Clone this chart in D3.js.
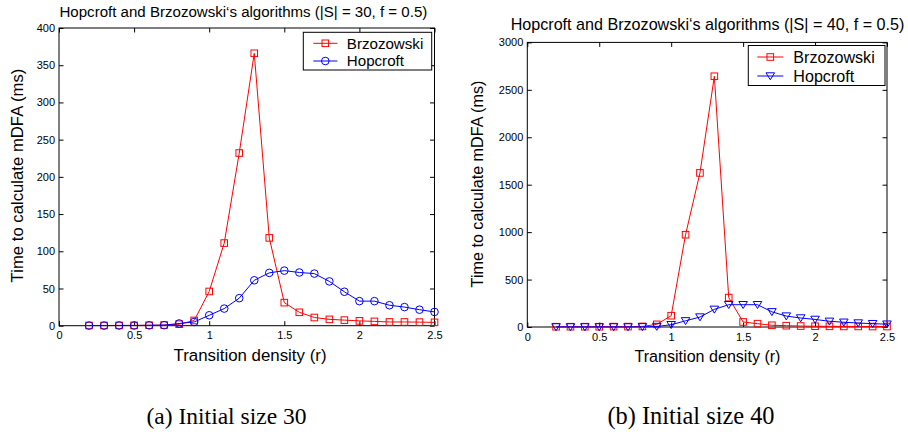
<!DOCTYPE html>
<html>
<head>
<meta charset="utf-8">
<script src="https://cdn.jsdelivr.net/npm/d3@7/dist/d3.min.js"></script>
<style>
  html, body { margin: 0; padding: 0; background: #fff; }
  svg { display: block; }
  text { font-family: "Liberation Sans", Arial, Helvetica, sans-serif; fill: #000; }
  text.caption { font-family: "Liberation Serif", "Times New Roman", serif; }
</style>
</head>
<body>
<svg id="chart" width="908" height="434"></svg>
<script>
// ---------- data ----------
const density = [0.2, 0.3, 0.4, 0.5, 0.6, 0.7, 0.8, 0.9, 1.0, 1.1, 1.2, 1.3, 1.4, 1.5, 1.6, 1.7, 1.8, 1.9, 2.0, 2.1, 2.2, 2.3, 2.4, 2.5];

const brzozowski30 = [0.3, 0.3, 0.4, 0.4, 0.6, 0.9, 2, 7, 46, 111, 232, 366, 118, 31, 18, 11, 8.5, 7.5, 6.5, 5.8, 5, 5, 4.8, 4.5];
const hopcroft30   = [0.2, 0.2, 0.3, 0.3, 0.5, 0.7, 3, 5, 14, 23, 37, 61, 71, 74, 71.5, 70, 59.5, 45.6, 33, 33, 27.5, 25, 21.5, 18.5];

const brzozowski40 = [3, 3, 3, 3, 4, 4, 6, 28, 119, 973, 1624, 2643, 310, 53, 35, 18, 14, 10, 8, 7, 6, 6, 5, 5];
const hopcroft40   = [1, 1, 1, 1, 1, 1, 2, 5, 24, 65, 105, 186, 235, 235, 235, 160, 115, 95, 80, 60, 50, 42, 35, 30];

const xTicks = [0, 0.5, 1, 1.5, 2, 2.5];
const yTicks30 = [0, 50, 100, 150, 200, 250, 300, 350, 400];
const yTicks40 = [0, 500, 1000, 1500, 2000, 2500, 3000];

const seriesNames = ["Brzozowski", "Hopcroft"];
const titles = [
  "Hopcroft and Brzozowski\u2018s algorithms (|S| = 30, f = 0.5)",
  "Hopcroft and Brzozowski\u2018s algorithms (|S| = 40, f = 0.5)"
];
const captions = ["(a) Initial size 30", "(b) Initial size 40"];
const xLabel = "Transition density (r)";
const yLabel = "Time to calculate mDFA (ms)";

// ---------- drawing ----------
const svg = d3.select("#chart");
const RED = "#ff0000", BLUE = "#0000ff";

// scale font-size so that the text spans a target width
function fit(sel, target, base) {
  sel.attr("font-size", base);
  const w = sel.node().getComputedTextLength();
  if (w > 0) sel.attr("font-size", (base * target / w).toFixed(2));
  return sel;
}

function marker(g, type, color) {
  if (type === "square") {
    g.append("rect").attr("x", -3.3).attr("y", -3.3).attr("width", 6.6).attr("height", 6.6)
      .attr("fill", "none").attr("stroke", color).attr("stroke-width", 1);
  } else if (type === "circle") {
    g.append("circle").attr("r", 3.8).attr("fill", "none").attr("stroke", color).attr("stroke-width", 1);
  } else if (type === "tri") {
    g.append("path").attr("d", "M-4.3,-3.2 L4.3,-3.2 L0,3.8 Z")
      .attr("fill", "none").attr("stroke", color).attr("stroke-width", 1);
  }
}

function panel(cfg) {
  const g = svg.append("g");
  const x = d3.scaleLinear().domain([0, 2.5]).range([cfg.left, cfg.right]);
  const y = d3.scaleLinear().domain([0, cfg.ymax]).range([cfg.bottom, cfg.top]);

  const ax = g.append("g").attr("transform", `translate(0,${cfg.bottom})`)
    .call(d3.axisBottom(x).tickValues(xTicks).tickSize(-4.5).tickPadding(6).tickFormat(d3.format("")));
  const axTop = g.append("g").attr("transform", `translate(0,${cfg.top})`)
    .call(d3.axisTop(x).tickValues(xTicks).tickSize(-4.5).tickFormat(""));
  const ay = g.append("g").attr("transform", `translate(${cfg.left},0)`)
    .call(d3.axisLeft(y).tickValues(cfg.yTicks).tickSize(-4.5).tickPadding(4).tickFormat(d3.format("")));
  const ayR = g.append("g").attr("transform", `translate(${cfg.right},0)`)
    .call(d3.axisRight(y).tickValues(cfg.yTicks).tickSize(-4.5).tickFormat(""));
  [ax, axTop, ay, ayR].forEach(a => {
    a.select(".domain").remove();
    a.selectAll("line").attr("stroke", "#000").attr("stroke-width", 1);
    a.selectAll("text").attr("font-size", cfg.tickFont).attr("fill", "#000");
  });

  g.append("rect").attr("x", cfg.left).attr("y", cfg.top)
    .attr("width", cfg.right - cfg.left).attr("height", cfg.bottom - cfg.top)
    .attr("fill", "none").attr("stroke", "#000").attr("stroke-width", 1);

  const line = d3.line().x(d => x(d[0])).y(d => y(d[1]));
  cfg.series.forEach(s => {
    const pts = density.map((d, i) => [d, s.values[i]]);
    g.append("path").datum(pts).attr("d", line).attr("fill", "none")
      .attr("stroke", s.color).attr("stroke-width", 1);
    pts.forEach(p => {
      const m = g.append("g").attr("transform", `translate(${x(p[0])},${y(p[1])})`);
      marker(m, s.marker, s.color);
    });
  });

  // title
  fit(g.append("text").attr("x", cfg.titleX).attr("y", cfg.titleY).attr("text-anchor", "middle")
    .text(cfg.title), cfg.titleW, 14);
  // x label
  fit(g.append("text").attr("x", cfg.xLabelX).attr("y", cfg.xLabelY).attr("text-anchor", "middle")
    .text(xLabel), cfg.xLabelW, 16);
  // y label
  fit(g.append("text").attr("transform", `translate(${cfg.yLabelX},${cfg.yLabelY}) rotate(-90)`)
    .attr("text-anchor", "middle").text(yLabel), cfg.yLabelW, 16);

  // legend
  const L = cfg.legend;
  g.append("rect").attr("x", L.x).attr("y", L.y).attr("width", L.w).attr("height", L.h)
    .attr("fill", "#fff").attr("stroke", "#000").attr("stroke-width", 1);
  let fs = null;
  cfg.series.forEach((s, i) => {
    const ry = L.y + L.row0 + i * L.rowGap;
    g.append("line").attr("x1", L.x + L.lineX0).attr("x2", L.x + L.lineX1)
      .attr("y1", ry).attr("y2", ry).attr("stroke", s.color).attr("stroke-width", 1);
    const m = g.append("g").attr("transform", `translate(${L.x + (L.lineX0 + L.lineX1) / 2},${ry})`);
    marker(m, s.marker, s.color);
    const t = g.append("text").attr("x", L.x + L.textX).attr("y", ry).attr("dy", "0.36em").text(seriesNames[i]);
    if (i === 0) { fit(t, L.textW, 15); fs = t.attr("font-size"); }
    else t.attr("font-size", fs);
  });

  // caption (serif)
  const cap = svg.append("text").attr("class", "caption").attr("x", cfg.capX).attr("y", 424)
    .attr("text-anchor", "middle").text(cfg.caption);
  fit(cap, cfg.capW, 22);
}

panel({
  left: 59, right: 434.5, top: 28, bottom: 325.7, ymax: 400, yTicks: yTicks30,
  tickFont: 11,
  title: titles[0], titleX: 243.4, titleY: 17, titleW: 368,
  xLabelX: 250, xLabelY: 361, xLabelW: 153,
  yLabelX: 23, yLabelY: 175.5, yLabelW: 214,
  caption: captions[0], capX: 226.5, capW: 160,
  series: [
    { values: brzozowski30, color: RED, marker: "square" },
    { values: hopcroft30, color: BLUE, marker: "circle" }
  ],
  legend: { x: 303.3, y: 32.3, w: 128.4, h: 37.7, row0: 11, rowGap: 17.7, lineX0: 10, lineX1: 34, textX: 43.5, textW: 76.5 }
});

panel({
  left: 527.3, right: 887, top: 42.4, bottom: 327, ymax: 3000, yTicks: yTicks40,
  tickFont: 11,
  title: titles[1], titleX: 707.5, titleY: 30, titleW: 394,
  xLabelX: 707.5, xLabelY: 362, xLabelW: 146,
  yLabelX: 483, yLabelY: 184, yLabelW: 207,
  caption: captions[1], capX: 691, capW: 167,
  series: [
    { values: brzozowski40, color: RED, marker: "square" },
    { values: hopcroft40, color: BLUE, marker: "tri" }
  ],
  legend: { x: 748.3, y: 45.5, w: 136.7, h: 40, row0: 11.5, rowGap: 19, lineX0: 9, lineX1: 35, textX: 45, textW: 81.5 }
});
</script>
</body>
</html>
